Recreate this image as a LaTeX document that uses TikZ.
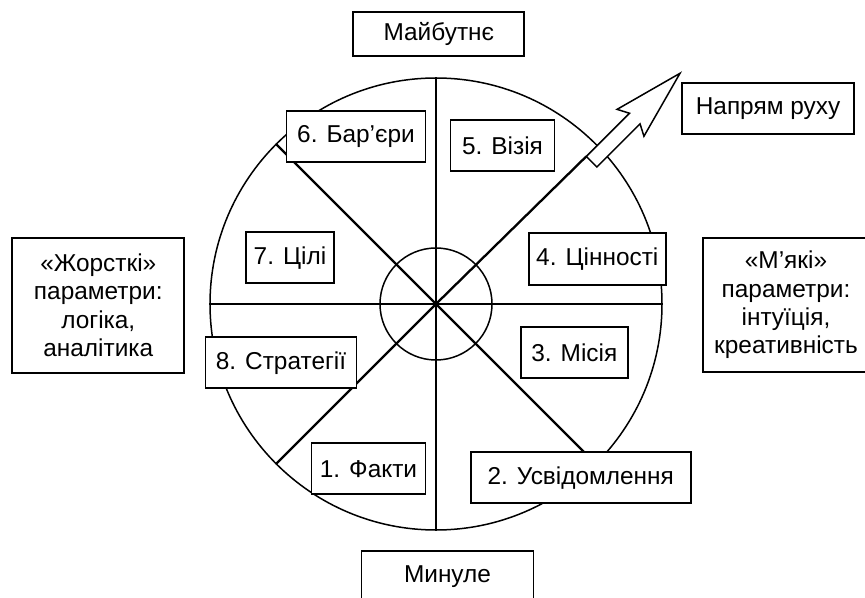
\documentclass[tikz,border=0pt]{standalone}
\usepackage{fontspec}
\setmainfont{Liberation Sans}
\usepackage{tikz}
\usetikzlibrary{positioning}

\begin{document}
\begin{tikzpicture}[x=0.5pt,y=0.5pt,
  box/.style={draw,fill=white,line width=0.9pt,inner sep=2pt,
    minimum height=25.5pt,font=\fontsize{12.2}{14.2}\selectfont},
  side/.style={box,align=center,inner sep=1pt,text width=80pt},
  spoke/.style={line width=0.85pt},
  diag/.style={line width=1.15pt}]
\useasboundingbox (-436,-294) rectangle (429,304);

\node (wheel) at (0,0) [circle,draw,line width=0.75pt,minimum size=226pt,inner sep=0pt]{};
\node (hub) at (wheel.center) [circle,draw,line width=0.75pt,minimum size=56pt,inner sep=0pt]{};

\draw [spoke] (wheel.north)--(wheel.south);
\draw [spoke] (wheel.west)--(wheel.east);
\draw [diag] (wheel.135)--(wheel.-45);

% direction arrow
\coordinate (tip) at (244,230.7);
\begin{scope}[shift={(tip)},rotate=45]
\draw [fill=white,line width=0.75pt] (0,0)--(-70,19)--(-64,7.5)--(-125,7.5)
  --(-125,-7.5)--(-64,-7.5)--(-70,-19)--cycle;
\coordinate (tail) at (-125,7.5);
\end{scope}
\draw [diag] (wheel.225)--(wheel.center)--(tail);

% sectors
\node (fakty) at (-67.5,-164.8) [box,minimum width=57pt]{1. Факти};
\node (usv) at (144.7,-173.8) [box,minimum width=110pt]{2. Усвідомлення};
\node (misia) at (138.3,-48.8) [box,minimum width=53.5pt]{3. Місія};
\node (cin) at (161.3,45) [box,minimum width=68.5pt,minimum height=26pt]{4. Цінності};
\node (vizia) at (66.5,158.3) [box,minimum width=52pt]{5. Візія};
\node (bar) at (-80,167.5) [box,minimum width=69.5pt]{6. Бар’єри};
\node (cili) at (-146,46.3) [box,minimum width=44pt]{7. Цілі};
\node (strat) at (-155,-58.8) [box,minimum width=75.5pt]{8. Стратегії};

\node (future) [box,minimum width=85.5pt,minimum height=22pt,above=10.2pt of wheel,xshift=1.4pt]{Майбутнє};
\node (past) [box,minimum width=86pt,minimum height=0pt,text height=13.7pt,text depth=20pt,
  below=9.7pt of wheel,xshift=5.75pt]{Минуле};
\node (napr) at (332,195.2) [box,minimum width=86.3pt]{Напрям руху};
\node (hard) at (-337.7,-1.2) [side,minimum width=86pt,minimum height=67.5pt]{«Жорсткі»\\параметри:\\логіка,\\аналітика};
\node (soft) at (350,-1) [side,minimum width=83pt,minimum height=67pt]{«М’які»\\параметри:\\інтуїція,\\креативність};

\end{tikzpicture}
\end{document}
